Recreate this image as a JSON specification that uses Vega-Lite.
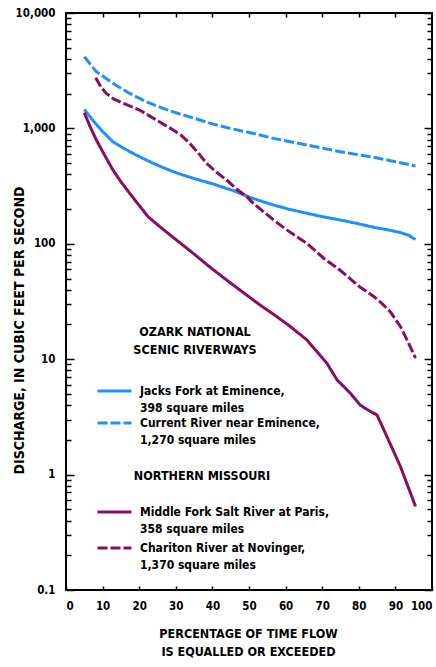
{
  "$schema": "https://vega.github.io/schema/vega-lite/v6.json",
  "width": 366,
  "height": 577,
  "autosize": {"type": "none"},
  "padding": {"left": 66, "top": 13, "right": 4, "bottom": 77},
  "background": "white",
  "config": {
    "font": "DejaVu Sans Condensed",
    "view": {"stroke": "black", "strokeWidth": 2},
    "axis": {
      "labelFont": "DejaVu Sans Condensed",
      "labelFontSize": 11.5,
      "labelFontWeight": "bold",
      "labelColor": "black",
      "tickColor": "black",
      "tickWidth": 1.5,
      "grid": false,
      "domain": false,
      "titleFont": "DejaVu Sans Condensed",
      "titleFontSize": 12.5,
      "titleFontWeight": "bold",
      "titleColor": "black"
    },
    "legend": {
      "labelFont": "DejaVu Sans Condensed",
      "titleFont": "DejaVu Sans Condensed",
      "labelColor": "black",
      "titleColor": "black"
    }
  },
  "data": {
    "values": [
      {"group": "Ozark", "series": "Jacks Fork at Eminence, 398 square miles", "pct": 5, "q": 1460},
      {"group": "Ozark", "series": "Jacks Fork at Eminence, 398 square miles", "pct": 7.3, "q": 1180},
      {"group": "Ozark", "series": "Jacks Fork at Eminence, 398 square miles", "pct": 10, "q": 940},
      {"group": "Ozark", "series": "Jacks Fork at Eminence, 398 square miles", "pct": 12.8, "q": 767},
      {"group": "Ozark", "series": "Jacks Fork at Eminence, 398 square miles", "pct": 15.5, "q": 680},
      {"group": "Ozark", "series": "Jacks Fork at Eminence, 398 square miles", "pct": 18.3, "q": 608},
      {"group": "Ozark", "series": "Jacks Fork at Eminence, 398 square miles", "pct": 21, "q": 550},
      {"group": "Ozark", "series": "Jacks Fork at Eminence, 398 square miles", "pct": 23.8, "q": 499},
      {"group": "Ozark", "series": "Jacks Fork at Eminence, 398 square miles", "pct": 26.5, "q": 458},
      {"group": "Ozark", "series": "Jacks Fork at Eminence, 398 square miles", "pct": 29.3, "q": 422},
      {"group": "Ozark", "series": "Jacks Fork at Eminence, 398 square miles", "pct": 32, "q": 394},
      {"group": "Ozark", "series": "Jacks Fork at Eminence, 398 square miles", "pct": 34.7, "q": 370},
      {"group": "Ozark", "series": "Jacks Fork at Eminence, 398 square miles", "pct": 37.5, "q": 349},
      {"group": "Ozark", "series": "Jacks Fork at Eminence, 398 square miles", "pct": 40.2, "q": 330},
      {"group": "Ozark", "series": "Jacks Fork at Eminence, 398 square miles", "pct": 43, "q": 308},
      {"group": "Ozark", "series": "Jacks Fork at Eminence, 398 square miles", "pct": 45.7, "q": 289},
      {"group": "Ozark", "series": "Jacks Fork at Eminence, 398 square miles", "pct": 49.8, "q": 256},
      {"group": "Ozark", "series": "Jacks Fork at Eminence, 398 square miles", "pct": 53, "q": 236},
      {"group": "Ozark", "series": "Jacks Fork at Eminence, 398 square miles", "pct": 56.7, "q": 217},
      {"group": "Ozark", "series": "Jacks Fork at Eminence, 398 square miles", "pct": 61, "q": 199},
      {"group": "Ozark", "series": "Jacks Fork at Eminence, 398 square miles", "pct": 65.8, "q": 184},
      {"group": "Ozark", "series": "Jacks Fork at Eminence, 398 square miles", "pct": 70, "q": 172},
      {"group": "Ozark", "series": "Jacks Fork at Eminence, 398 square miles", "pct": 74.9, "q": 161},
      {"group": "Ozark", "series": "Jacks Fork at Eminence, 398 square miles", "pct": 79.5, "q": 150},
      {"group": "Ozark", "series": "Jacks Fork at Eminence, 398 square miles", "pct": 84.1, "q": 139},
      {"group": "Ozark", "series": "Jacks Fork at Eminence, 398 square miles", "pct": 88, "q": 132},
      {"group": "Ozark", "series": "Jacks Fork at Eminence, 398 square miles", "pct": 91.4, "q": 125},
      {"group": "Ozark", "series": "Jacks Fork at Eminence, 398 square miles", "pct": 93.5, "q": 119},
      {"group": "Ozark", "series": "Jacks Fork at Eminence, 398 square miles", "pct": 95.5, "q": 109},
      {"group": "Ozark", "series": "Current River near Eminence, 1,270 square miles", "pct": 5, "q": 4180},
      {"group": "Ozark", "series": "Current River near Eminence, 1,270 square miles", "pct": 8.3, "q": 3100},
      {"group": "Ozark", "series": "Current River near Eminence, 1,270 square miles", "pct": 12.8, "q": 2460},
      {"group": "Ozark", "series": "Current River near Eminence, 1,270 square miles", "pct": 17.4, "q": 2010},
      {"group": "Ozark", "series": "Current River near Eminence, 1,270 square miles", "pct": 22, "q": 1700},
      {"group": "Ozark", "series": "Current River near Eminence, 1,270 square miles", "pct": 26.5, "q": 1490},
      {"group": "Ozark", "series": "Current River near Eminence, 1,270 square miles", "pct": 31.1, "q": 1333},
      {"group": "Ozark", "series": "Current River near Eminence, 1,270 square miles", "pct": 35.7, "q": 1205},
      {"group": "Ozark", "series": "Current River near Eminence, 1,270 square miles", "pct": 40.2, "q": 1090},
      {"group": "Ozark", "series": "Current River near Eminence, 1,270 square miles", "pct": 44.8, "q": 1000},
      {"group": "Ozark", "series": "Current River near Eminence, 1,270 square miles", "pct": 49.8, "q": 925},
      {"group": "Ozark", "series": "Current River near Eminence, 1,270 square miles", "pct": 56.7, "q": 820},
      {"group": "Ozark", "series": "Current River near Eminence, 1,270 square miles", "pct": 65.8, "q": 718},
      {"group": "Ozark", "series": "Current River near Eminence, 1,270 square miles", "pct": 74.9, "q": 628},
      {"group": "Ozark", "series": "Current River near Eminence, 1,270 square miles", "pct": 84.1, "q": 562},
      {"group": "Ozark", "series": "Current River near Eminence, 1,270 square miles", "pct": 90, "q": 515},
      {"group": "Ozark", "series": "Current River near Eminence, 1,270 square miles", "pct": 95.5, "q": 472},
      {"group": "Missouri", "series": "Middle Fork Salt River at Paris, 358 square miles", "pct": 5, "q": 1370},
      {"group": "Missouri", "series": "Middle Fork Salt River at Paris, 358 square miles", "pct": 6.5, "q": 1050},
      {"group": "Missouri", "series": "Middle Fork Salt River at Paris, 358 square miles", "pct": 8.3, "q": 793},
      {"group": "Missouri", "series": "Middle Fork Salt River at Paris, 358 square miles", "pct": 10.5, "q": 590},
      {"group": "Missouri", "series": "Middle Fork Salt River at Paris, 358 square miles", "pct": 12.8, "q": 437},
      {"group": "Missouri", "series": "Middle Fork Salt River at Paris, 358 square miles", "pct": 15, "q": 345},
      {"group": "Missouri", "series": "Middle Fork Salt River at Paris, 358 square miles", "pct": 17.4, "q": 274},
      {"group": "Missouri", "series": "Middle Fork Salt River at Paris, 358 square miles", "pct": 20, "q": 215},
      {"group": "Missouri", "series": "Middle Fork Salt River at Paris, 358 square miles", "pct": 22.4, "q": 172},
      {"group": "Missouri", "series": "Middle Fork Salt River at Paris, 358 square miles", "pct": 25.6, "q": 141},
      {"group": "Missouri", "series": "Middle Fork Salt River at Paris, 358 square miles", "pct": 30, "q": 109},
      {"group": "Missouri", "series": "Middle Fork Salt River at Paris, 358 square miles", "pct": 34.7, "q": 83},
      {"group": "Missouri", "series": "Middle Fork Salt River at Paris, 358 square miles", "pct": 39, "q": 64},
      {"group": "Missouri", "series": "Middle Fork Salt River at Paris, 358 square miles", "pct": 43.9, "q": 48.5},
      {"group": "Missouri", "series": "Middle Fork Salt River at Paris, 358 square miles", "pct": 47.5, "q": 39.8},
      {"group": "Missouri", "series": "Middle Fork Salt River at Paris, 358 square miles", "pct": 53, "q": 29.5},
      {"group": "Missouri", "series": "Middle Fork Salt River at Paris, 358 square miles", "pct": 56.7, "q": 24.5},
      {"group": "Missouri", "series": "Middle Fork Salt River at Paris, 358 square miles", "pct": 61, "q": 19.5},
      {"group": "Missouri", "series": "Middle Fork Salt River at Paris, 358 square miles", "pct": 65.8, "q": 14.7},
      {"group": "Missouri", "series": "Middle Fork Salt River at Paris, 358 square miles", "pct": 71.3, "q": 9.2},
      {"group": "Missouri", "series": "Middle Fork Salt River at Paris, 358 square miles", "pct": 74.1, "q": 6.6},
      {"group": "Missouri", "series": "Middle Fork Salt River at Paris, 358 square miles", "pct": 77.7, "q": 5.07},
      {"group": "Missouri", "series": "Middle Fork Salt River at Paris, 358 square miles", "pct": 80.4, "q": 4.0},
      {"group": "Missouri", "series": "Middle Fork Salt River at Paris, 358 square miles", "pct": 82.2, "q": 3.68},
      {"group": "Missouri", "series": "Middle Fork Salt River at Paris, 358 square miles", "pct": 85, "q": 3.28},
      {"group": "Missouri", "series": "Middle Fork Salt River at Paris, 358 square miles", "pct": 87.7, "q": 2.13},
      {"group": "Missouri", "series": "Middle Fork Salt River at Paris, 358 square miles", "pct": 91.4, "q": 1.17},
      {"group": "Missouri", "series": "Middle Fork Salt River at Paris, 358 square miles", "pct": 95.5, "q": 0.53},
      {"group": "Missouri", "series": "Chariton River at Novinger, 1,370 square miles", "pct": 8.1, "q": 2750},
      {"group": "Missouri", "series": "Chariton River at Novinger, 1,370 square miles", "pct": 9.5, "q": 2300},
      {"group": "Missouri", "series": "Chariton River at Novinger, 1,370 square miles", "pct": 11, "q": 2010},
      {"group": "Missouri", "series": "Chariton River at Novinger, 1,370 square miles", "pct": 13, "q": 1800},
      {"group": "Missouri", "series": "Chariton River at Novinger, 1,370 square miles", "pct": 15.6, "q": 1650},
      {"group": "Missouri", "series": "Chariton River at Novinger, 1,370 square miles", "pct": 20.1, "q": 1443},
      {"group": "Missouri", "series": "Chariton River at Novinger, 1,370 square miles", "pct": 24.7, "q": 1183},
      {"group": "Missouri", "series": "Chariton River at Novinger, 1,370 square miles", "pct": 29.3, "q": 968},
      {"group": "Missouri", "series": "Chariton River at Novinger, 1,370 square miles", "pct": 31.5, "q": 870},
      {"group": "Missouri", "series": "Chariton River at Novinger, 1,370 square miles", "pct": 33.8, "q": 743},
      {"group": "Missouri", "series": "Chariton River at Novinger, 1,370 square miles", "pct": 36, "q": 620},
      {"group": "Missouri", "series": "Chariton River at Novinger, 1,370 square miles", "pct": 38.4, "q": 499},
      {"group": "Missouri", "series": "Chariton River at Novinger, 1,370 square miles", "pct": 41, "q": 420},
      {"group": "Missouri", "series": "Chariton River at Novinger, 1,370 square miles", "pct": 43.9, "q": 357},
      {"group": "Missouri", "series": "Chariton River at Novinger, 1,370 square miles", "pct": 46.5, "q": 300},
      {"group": "Missouri", "series": "Chariton River at Novinger, 1,370 square miles", "pct": 49.4, "q": 256},
      {"group": "Missouri", "series": "Chariton River at Novinger, 1,370 square miles", "pct": 51.2, "q": 224},
      {"group": "Missouri", "series": "Chariton River at Novinger, 1,370 square miles", "pct": 56.7, "q": 161},
      {"group": "Missouri", "series": "Chariton River at Novinger, 1,370 square miles", "pct": 60.3, "q": 132},
      {"group": "Missouri", "series": "Chariton River at Novinger, 1,370 square miles", "pct": 65.8, "q": 101},
      {"group": "Missouri", "series": "Chariton River at Novinger, 1,370 square miles", "pct": 70.4, "q": 75},
      {"group": "Missouri", "series": "Chariton River at Novinger, 1,370 square miles", "pct": 74.9, "q": 59},
      {"group": "Missouri", "series": "Chariton River at Novinger, 1,370 square miles", "pct": 80.4, "q": 42},
      {"group": "Missouri", "series": "Chariton River at Novinger, 1,370 square miles", "pct": 84.1, "q": 35},
      {"group": "Missouri", "series": "Chariton River at Novinger, 1,370 square miles", "pct": 86.5, "q": 30},
      {"group": "Missouri", "series": "Chariton River at Novinger, 1,370 square miles", "pct": 88.6, "q": 25.8},
      {"group": "Missouri", "series": "Chariton River at Novinger, 1,370 square miles", "pct": 91.4, "q": 19.1},
      {"group": "Missouri", "series": "Chariton River at Novinger, 1,370 square miles", "pct": 93.5, "q": 14},
      {"group": "Missouri", "series": "Chariton River at Novinger, 1,370 square miles", "pct": 95.5, "q": 10.2}
    ]
  },
  "layer": [
    {
      "transform": [{"filter": "datum.group === 'Ozark'"}],
      "mark": {"type": "line", "strokeWidth": 3},
      "encoding": {
        "x": {
          "field": "pct", "type": "quantitative",
          "scale": {"domain": [0, 100], "nice": false, "zero": false},
          "axis": {
            "orient": "bottom",
            "values": [0, 10, 20, 30, 40, 50, 60, 70, 80, 90, 100],
            "tickSize": -4,
            "labelPadding": 14,
            "title": ["PERCENTAGE OF TIME FLOW", "IS EQUALLED OR EXCEEDED"],
            "titleX": 182,
            "titleY": 43,
            "titleBaseline": "middle",
            "titleAlign": "center",
            "titleLineHeight": 18
          }
        },
        "y": {
          "field": "q", "type": "quantitative",
          "scale": {"type": "log", "domain": [0.1, 10000], "nice": false},
          "axis": {
            "orient": "left",
            "values": [0.1, 1, 10, 100, 1000, 10000],
            "labelExpr": "format(datum.value, ',')",
            "tickSize": -8,
            "labelPadding": 19,
            "title": "DISCHARGE, IN CUBIC FEET PER SECOND",
            "titleFontSize": 14,
            "titleX": -47,
            "titleY": 317,
            "titleAngle": -90,
            "titleBaseline": "middle",
            "titleAlign": "center"
          }
        },
        "color": {
          "field": "series", "type": "nominal",
          "scale": {"domain": ["Jacks Fork at Eminence, 398 square miles", "Current River near Eminence, 1,270 square miles"], "range": ["#1f8fff", "#1f8fff"]},
          "legend": {
            "title": ["OZARK NATIONAL", "SCENIC RIVERWAYS"],
            "orient": "none", "legendX": 41, "legendY": 313,
            "symbolType": "M-2.83,0H2.83", "symbolSize": 144, "symbolStrokeWidth": 3,
            "titleFontSize": 12.5, "titleFontWeight": "bold", "titleLineHeight": 18,
            "titleAnchor": "middle", "titleAlign": "center", "titlePadding": 27,
            "labelFontSize": 12, "labelFontWeight": "bold", "labelLimit": 0, "labelOffset": 18,
            "rowPadding": 1, "padding": 0,
            "labelExpr": "[slice(datum.label, 0, indexof(datum.label, ', ') + 1), '\u00a0' + slice(datum.label, indexof(datum.label, ', ') + 2)]",
            "encode": {"labels": {"update": {"lineHeight": {"value": 17}}}, "title": {"update": {"dx": {"value": -18}}}}
          }
        },
        "strokeDash": {
          "field": "series", "type": "nominal",
          "scale": {"domain": ["Jacks Fork at Eminence, 398 square miles", "Current River near Eminence, 1,270 square miles"], "range": [[1, 0], [10, 3]]},
          "legend": {
            "title": ["OZARK NATIONAL", "SCENIC RIVERWAYS"],
            "orient": "none", "legendX": 41, "legendY": 313,
            "symbolType": "M-2.83,0H2.83", "symbolSize": 144, "symbolStrokeWidth": 3,
            "titleFontSize": 12.5, "titleFontWeight": "bold", "titleLineHeight": 18,
            "titleAnchor": "middle", "titleAlign": "center", "titlePadding": 27,
            "labelFontSize": 12, "labelFontWeight": "bold", "labelLimit": 0, "labelOffset": 18,
            "rowPadding": 1, "padding": 0,
            "labelExpr": "[slice(datum.label, 0, indexof(datum.label, ', ') + 1), '\u00a0' + slice(datum.label, indexof(datum.label, ', ') + 2)]",
            "encode": {"labels": {"update": {"lineHeight": {"value": 17}}}, "title": {"update": {"dx": {"value": -18}}}}
          }
        }
      }
    },
    {
      "transform": [{"filter": "datum.group === 'Missouri'"}],
      "mark": {"type": "line", "strokeWidth": 3},
      "encoding": {
        "x": {
          "field": "pct", "type": "quantitative",
          "scale": {"domain": [0, 100], "nice": false, "zero": false},
          "axis": {"orient": "top", "values": [10, 20, 30, 40, 50, 60, 70, 80, 90], "tickSize": -4, "labels": false, "title": null}
        },
        "y": {
          "field": "q", "type": "quantitative",
          "scale": {"type": "log", "domain": [0.1, 10000], "nice": false},
          "axis": {"orient": "right", "values": [0.1, 1, 10, 100, 1000, 10000], "tickSize": -8, "labels": false, "title": null}
        },
        "color": {
          "field": "series", "type": "nominal",
          "scale": {"domain": ["Middle Fork Salt River at Paris, 358 square miles", "Chariton River at Novinger, 1,370 square miles"], "range": ["#8b0d5f", "#8b0d5f"]},
          "legend": {
            "title": "NORTHERN MISSOURI",
            "orient": "none", "legendX": 41, "legendY": 457,
            "symbolType": "M-2.83,0H2.83", "symbolSize": 144, "symbolStrokeWidth": 3,
            "titleFontSize": 12.5, "titleFontWeight": "bold",
            "titleAnchor": "middle", "titleAlign": "center", "titlePadding": 22,
            "labelFontSize": 12, "labelFontWeight": "bold", "labelLimit": 0, "labelOffset": 18,
            "rowPadding": 5, "padding": 0,
            "labelExpr": "[slice(datum.label, 0, indexof(datum.label, ', ') + 1), '\u00a0' + slice(datum.label, indexof(datum.label, ', ') + 2)]",
            "encode": {"labels": {"update": {"lineHeight": {"value": 17}}}, "title": {"update": {"dx": {"value": -16}}}}
          }
        },
        "strokeDash": {
          "field": "series", "type": "nominal",
          "scale": {"domain": ["Middle Fork Salt River at Paris, 358 square miles", "Chariton River at Novinger, 1,370 square miles"], "range": [[1, 0], [10, 3]]},
          "legend": {
            "title": "NORTHERN MISSOURI",
            "orient": "none", "legendX": 41, "legendY": 457,
            "symbolType": "M-2.83,0H2.83", "symbolSize": 144, "symbolStrokeWidth": 3,
            "titleFontSize": 12.5, "titleFontWeight": "bold",
            "titleAnchor": "middle", "titleAlign": "center", "titlePadding": 22,
            "labelFontSize": 12, "labelFontWeight": "bold", "labelLimit": 0, "labelOffset": 18,
            "rowPadding": 5, "padding": 0,
            "labelExpr": "[slice(datum.label, 0, indexof(datum.label, ', ') + 1), '\u00a0' + slice(datum.label, indexof(datum.label, ', ') + 2)]",
            "encode": {"labels": {"update": {"lineHeight": {"value": 17}}}, "title": {"update": {"dx": {"value": -16}}}}
          }
        }
      }
    },
    {
      "mark": {"type": "line", "opacity": 0},
      "encoding": {
        "x": {"field": "pct", "type": "quantitative", "scale": {"domain": [0, 100], "nice": false, "zero": false}, "axis": null},
        "detail": {"field": "series"},
        "y": {
          "field": "q", "type": "quantitative",
          "scale": {"type": "log", "domain": [0.1, 10000], "nice": false},
          "axis": {"orient": "left", "values": [0.2, 0.3, 0.4, 0.5, 0.6, 0.7, 0.8, 0.9, 2, 3, 4, 5, 6, 7, 8, 9, 20, 30, 40, 50, 60, 70, 80, 90, 200, 300, 400, 500, 600, 700, 800, 900, 2000, 3000, 4000, 5000, 6000, 7000, 8000, 9000], "tickSize": -5, "labels": false, "title": null}
        }
      }
    },
    {
      "mark": {"type": "line", "opacity": 0},
      "encoding": {
        "x": {"field": "pct", "type": "quantitative", "scale": {"domain": [0, 100], "nice": false, "zero": false}, "axis": null},
        "detail": {"field": "series"},
        "y": {
          "field": "q", "type": "quantitative",
          "scale": {"type": "log", "domain": [0.1, 10000], "nice": false},
          "axis": {"orient": "right", "values": [0.2, 0.3, 0.4, 0.5, 0.6, 0.7, 0.8, 0.9, 2, 3, 4, 5, 6, 7, 8, 9, 20, 30, 40, 50, 60, 70, 80, 90, 200, 300, 400, 500, 600, 700, 800, 900, 2000, 3000, 4000, 5000, 6000, 7000, 8000, 9000], "tickSize": -5, "labels": false, "title": null}
        }
      }
    }
  ],
  "resolve": {
    "scale": {"color": "independent", "strokeDash": "independent"},
    "axis": {"x": "independent", "y": "independent"}
  }
}
